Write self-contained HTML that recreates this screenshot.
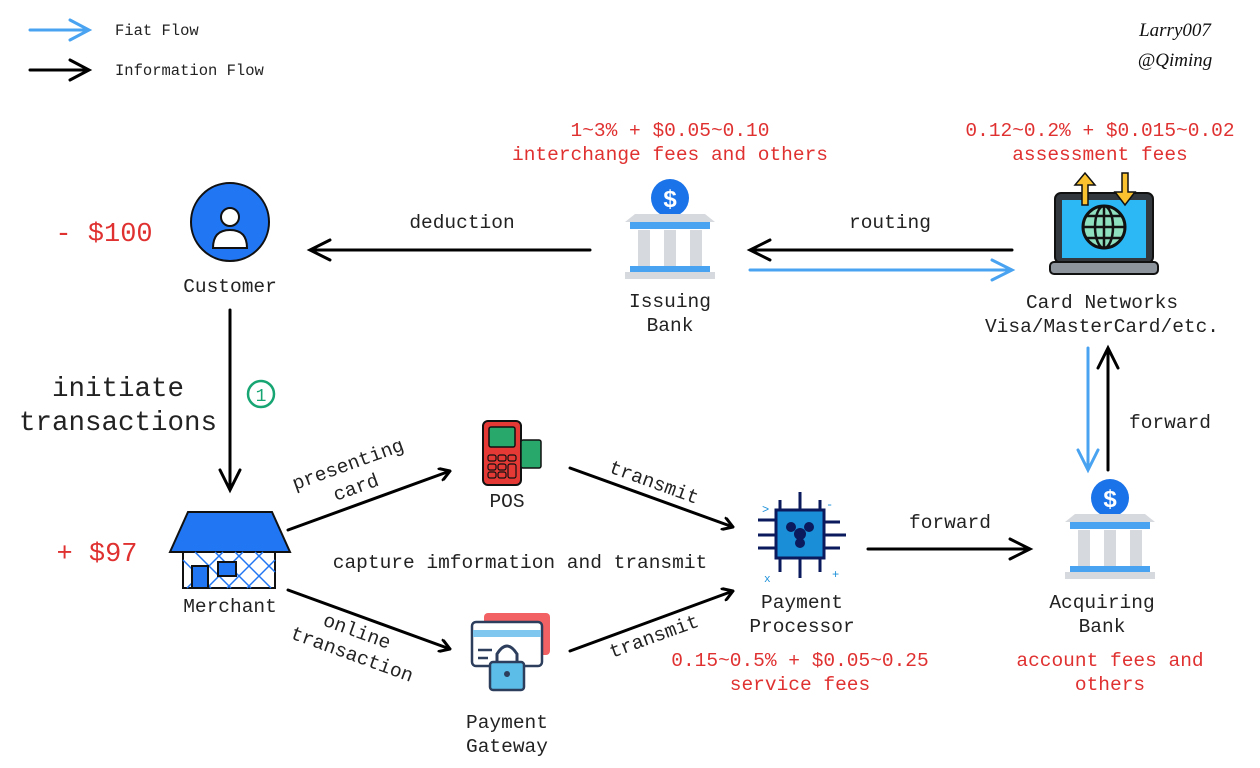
<!DOCTYPE html>
<html><head><meta charset="utf-8"><style>
html,body{margin:0;padding:0;background:#fff;}
svg{display:block;}
text{font-family:"Liberation Mono",monospace;}
</style></head><body>
<svg width="1260" height="768" viewBox="0 0 1260 768" xmlns="http://www.w3.org/2000/svg">
<defs>
<marker id="hb" markerWidth="12" markerHeight="14" refX="11" refY="7" orient="auto" markerUnits="userSpaceOnUse" viewBox="0 0 12 14"><path d="M0,0 L11,7 L0,14" fill="none" stroke="#000" stroke-width="3"/></marker>
</defs>
<g fill="none" stroke-linecap="round" stroke-width="3">
<line x1="30" y1="30" x2="88" y2="30" stroke="#4aa3f0"/><path d="M70,20 L89,30 L70,40" stroke="#4aa3f0"/>
<line x1="30" y1="70" x2="88" y2="70" stroke="#000"/><path d="M70,60 L89,70 L70,80" stroke="#000"/>
<line x1="230" y1="310" x2="230" y2="488" stroke="#000"/><path d="M220,470 L230,490 L240,470" stroke="#000"/>
<line x1="590" y1="250" x2="312" y2="250" stroke="#000"/><path d="M330,240 L310,250 L330,260" stroke="#000"/>
<line x1="1012" y1="250" x2="752" y2="250" stroke="#000"/><path d="M770,240 L750,250 L770,260" stroke="#000"/>
<line x1="750" y1="270" x2="1010" y2="270" stroke="#4aa3f0"/><path d="M992,260 L1012,270 L992,280" stroke="#4aa3f0"/>
<line x1="1088" y1="348" x2="1088" y2="468" stroke="#4aa3f0"/><path d="M1078,450 L1088,470 L1098,450" stroke="#4aa3f0"/>
<line x1="1108" y1="470" x2="1108" y2="350" stroke="#000"/><path d="M1098,368 L1108,348 L1118,368" stroke="#000"/>
<line x1="868" y1="549" x2="1028" y2="549" stroke="#000"/><path d="M1010,539 L1030,549 L1010,559" stroke="#000"/>
<line x1="288" y1="530" x2="450" y2="471" stroke="#000" marker-end="url(#hb)"/>
<line x1="288" y1="590" x2="450" y2="649" stroke="#000" marker-end="url(#hb)"/>
<line x1="570" y1="468" x2="733" y2="527" stroke="#000" marker-end="url(#hb)"/>
<line x1="570" y1="651" x2="733" y2="591" stroke="#000" marker-end="url(#hb)"/>
</g>

<g font-size="15.5" fill="#222">
<text x="115" y="35">Fiat Flow</text>
<text x="115" y="75">Information Flow</text>
</g>
<g font-style="italic" font-size="19" fill="#111" text-anchor="middle">
<text x="1175" y="36" style="font-family:'Liberation Serif',serif">Larry007</text>
<text x="1175" y="66" style="font-family:'Liberation Serif',serif">@Qiming</text>
</g>

<circle cx="230" cy="222" r="39" fill="#2176f3" stroke="#111" stroke-width="2"/>
<circle cx="230" cy="217" r="9" fill="#fff" stroke="#111" stroke-width="2"/>
<path d="M213,248 Q213,230 230,230 Q247,230 247,248 Z" fill="#fff" stroke="#111" stroke-width="2"/>

<path d="M170,552 L188,512 L272,512 L290,552 Z" fill="#2176f3" stroke="#111" stroke-width="2"/>
<rect x="183" y="552" width="92" height="36" fill="#fff" stroke="#111" stroke-width="2"/>
<path d="M183,560 L211,588 M195,552 L231,588 M215,552 L251,588 M235,552 L271,588 M255,552 L275,572 M275,560 L247,588 M263,552 L227,588 M243,552 L207,588 M223,552 L187,588" stroke="#2176f3" stroke-width="1.5"/>
<rect x="192" y="566" width="16" height="22" fill="#2176f3" stroke="#111" stroke-width="2"/>
<rect x="218" y="562" width="18" height="14" fill="#2176f3" stroke="#111" stroke-width="2"/>

<g>
<circle cx="670" cy="198" r="19" fill="#1a73e8"/>
<text x="670" y="207" font-size="24" font-weight="bold" fill="#fff" text-anchor="middle" style="font-family:'Liberation Sans',sans-serif">$</text>
<path d="M625,222 L715,222 L705,214 L635,214 Z" fill="#d6d9de"/>
<rect x="630" y="222" width="80" height="7" fill="#4aa3f0"/>
<rect x="638" y="230" width="12" height="36" fill="#d6d9de"/><rect x="664" y="230" width="12" height="36" fill="#d6d9de"/><rect x="690" y="230" width="12" height="36" fill="#d6d9de"/>
<rect x="630" y="266" width="80" height="6" fill="#4aa3f0"/>
<rect x="625" y="272" width="90" height="7" fill="#d6d9de"/>
</g>
<g transform="translate(440,300)">
<circle cx="670" cy="198" r="19" fill="#1a73e8"/>
<text x="670" y="207" font-size="24" font-weight="bold" fill="#fff" text-anchor="middle" style="font-family:'Liberation Sans',sans-serif">$</text>
<path d="M625,222 L715,222 L705,214 L635,214 Z" fill="#d6d9de"/>
<rect x="630" y="222" width="80" height="7" fill="#4aa3f0"/>
<rect x="638" y="230" width="12" height="36" fill="#d6d9de"/><rect x="664" y="230" width="12" height="36" fill="#d6d9de"/><rect x="690" y="230" width="12" height="36" fill="#d6d9de"/>
<rect x="630" y="266" width="80" height="6" fill="#4aa3f0"/>
<rect x="625" y="272" width="90" height="7" fill="#d6d9de"/>
</g>

<rect x="1055" y="193" width="98" height="70" rx="6" fill="#33383f" stroke="#111" stroke-width="2"/>
<rect x="1062" y="200" width="84" height="58" fill="#2bb8f5"/>
<rect x="1050" y="262" width="108" height="12" rx="4" fill="#8d949c" stroke="#111" stroke-width="2"/>
<circle cx="1104" cy="227" r="21" fill="#8fe0bf" stroke="#111" stroke-width="3"/>
<path d="M1104,206 L1104,248 M1083,227 L1125,227 M1087,216 L1121,216 M1087,238 L1121,238" stroke="#111" stroke-width="2.5" fill="none"/>
<ellipse cx="1104" cy="227" rx="9" ry="21" fill="none" stroke="#111" stroke-width="2.5"/>
<path d="M1082,205 L1082,185 L1075,185 L1085,173 L1095,185 L1088,185 L1088,205 Z" fill="#f9c22e" stroke="#111" stroke-width="1.5"/>
<path d="M1122,173 L1122,192 L1115,192 L1125,205 L1135,192 L1128,192 L1128,173 Z" fill="#f9c22e" stroke="#111" stroke-width="1.5"/>

<rect x="483" y="421" width="38" height="64" rx="5" fill="#e53935" stroke="#111" stroke-width="2"/>
<rect x="489" y="427" width="26" height="20" rx="2" fill="#29a86c" stroke="#111" stroke-width="1.5"/>
<rect x="521" y="440" width="20" height="28" rx="2" fill="#29a86c" stroke="#111" stroke-width="1.5"/>
<g fill="#e53935" stroke="#111" stroke-width="1.2">
<rect x="488" y="455" width="8" height="6" rx="2"/><rect x="498" y="455" width="8" height="6" rx="2"/><rect x="508" y="455" width="8" height="6" rx="2"/>
<rect x="488" y="464" width="8" height="6" rx="2"/><rect x="498" y="464" width="8" height="6" rx="2"/><rect x="508" y="464" width="8" height="14" rx="2"/>
<rect x="488" y="472" width="8" height="6" rx="2"/><rect x="498" y="472" width="8" height="6" rx="2"/>
</g>

<g stroke="#0a1a5c" stroke-width="3" fill="none">
<path d="M800,492 L800,510 M780,500 L780,510 M820,500 L820,510 M800,558 L800,578 M780,558 L780,572 M820,558 L820,572 M758,520 L776,520 M758,535 L776,535 M758,548 L776,548 M824,522 L840,522 M824,535 L846,535 M824,548 L840,548"/>
</g>
<rect x="776" y="510" width="48" height="48" fill="#1a8fd8" stroke="#0a1a5c" stroke-width="3"/>
<circle cx="800" cy="534" r="6" fill="#0a1a5c"/><circle cx="791" cy="527" r="5" fill="#0a1a5c"/><circle cx="809" cy="527" r="5" fill="#0a1a5c"/><circle cx="800" cy="543" r="5" fill="#0a1a5c"/>
<text x="762" y="513" font-size="12" fill="#1a8fd8">&gt;</text>
<text x="764" y="582" font-size="11" fill="#1a8fd8">x</text>
<text x="832" y="578" font-size="12" fill="#1a8fd8">+</text>
<text x="826" y="508" font-size="12" fill="#1a8fd8">-</text>

<rect x="484" y="613" width="66" height="42" rx="4" fill="#f26163"/>
<rect x="472" y="622" width="70" height="44" rx="4" fill="#fff" stroke="#2c3e5c" stroke-width="2.5"/>
<rect x="473" y="630" width="68" height="7" fill="#7fc7ef"/>
<path d="M478,650 L492,650 M478,658 L488,658" stroke="#2c3e5c" stroke-width="2.5"/>
<path d="M497,662 L497,654 Q507,638 517,654 L517,662" fill="none" stroke="#2c3e5c" stroke-width="3"/>
<rect x="490" y="662" width="34" height="28" rx="3" fill="#5bbde8" stroke="#2c3e5c" stroke-width="2.5"/>
<circle cx="507" cy="674" r="3" fill="#2c3e5c"/>

<circle cx="261" cy="394" r="13" fill="none" stroke="#17a673" stroke-width="2.5"/>
<text x="261" y="401" font-size="18" fill="#17a673" text-anchor="middle">1</text>

<g font-size="19.5" fill="#222" text-anchor="middle">
<text x="230" y="292">Customer</text>
<text x="230" y="612">Merchant</text>
<text x="462" y="228">deduction</text>
<text x="890" y="228">routing</text>
<text x="670" y="307">Issuing</text><text x="670" y="331">Bank</text>
<text x="1102" y="308">Card Networks</text><text x="1102" y="332">Visa/MasterCard/etc.</text>
<text x="1170" y="428">forward</text>
<text x="950" y="528">forward</text>
<text x="1102" y="608">Acquiring</text><text x="1102" y="632">Bank</text>
<text x="802" y="608">Payment</text><text x="802" y="632">Processor</text>
<text x="507" y="507">POS</text>
<text x="507" y="728">Payment</text><text x="507" y="752">Gateway</text>
<text x="520" y="568">capture imformation and transmit</text>
<text transform="translate(350,470) rotate(-20)">presenting</text>
<text transform="translate(358,493) rotate(-20)">card</text>
<text transform="translate(355,637) rotate(20)">online</text>
<text transform="translate(350,660) rotate(20)">transaction</text>
<text transform="translate(652,488) rotate(20)">transmit</text>
<text transform="translate(656,642) rotate(-20)">transmit</text>
</g>
<g font-size="27.5" fill="#222" text-anchor="middle">
<text x="118" y="396">initiate</text>
<text x="118" y="430">transactions</text>
</g>
<g font-size="27" fill="#e03131" text-anchor="middle">
<text x="104" y="241">- $100</text>
<text x="97" y="561">+ $97</text>
</g>
<g font-size="19.5" fill="#e03131" text-anchor="middle">
<text x="670" y="136">1~3% + $0.05~0.10</text>
<text x="670" y="160">interchange fees and others</text>
<text x="1100" y="136">0.12~0.2% + $0.015~0.02</text>
<text x="1100" y="160">assessment fees</text>
<text x="800" y="666">0.15~0.5% + $0.05~0.25</text>
<text x="800" y="690">service fees</text>
<text x="1110" y="666">account fees and</text>
<text x="1110" y="690">others</text>
</g>
</svg>
</body></html>
